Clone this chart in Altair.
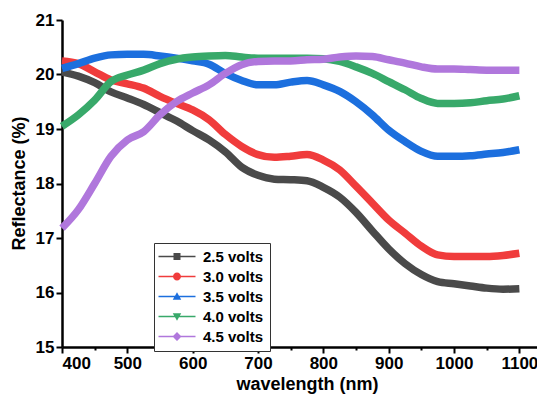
import altair as alt
import pandas as pd

wavelength = [400, 425, 450, 475, 500, 525, 550, 575, 600, 625, 650, 675, 700, 725, 750,
              775, 800, 825, 850, 875, 900, 925, 950, 975, 1000, 1025, 1050, 1075, 1100]

v25 = [20.05, 19.97, 19.85, 19.68, 19.57, 19.45, 19.30, 19.15, 18.97, 18.80, 18.58, 18.30, 18.15, 18.08, 18.07,
       18.05, 17.93, 17.75, 17.47, 17.13, 16.80, 16.53, 16.33, 16.20, 16.16, 16.12, 16.08, 16.06, 16.07]
v30 = [20.25, 20.20, 20.05, 19.90, 19.83, 19.75, 19.60, 19.47, 19.35, 19.17, 18.90, 18.68, 18.53, 18.48, 18.50,
       18.53, 18.43, 18.25, 17.95, 17.64, 17.33, 17.09, 16.85, 16.69, 16.66, 16.66, 16.66, 16.68, 16.72]
v35 = [20.11, 20.20, 20.30, 20.36, 20.37, 20.37, 20.34, 20.30, 20.25, 20.19, 20.02, 19.89, 19.81, 19.81, 19.86,
       19.89, 19.81, 19.69, 19.50, 19.26, 18.98, 18.77, 18.59, 18.50, 18.50, 18.51, 18.54, 18.57, 18.62]
v40 = [19.05, 19.26, 19.53, 19.87, 19.99, 20.08, 20.20, 20.28, 20.32, 20.34, 20.35, 20.32, 20.30, 20.30, 20.30,
       20.30, 20.29, 20.24, 20.14, 20.02, 19.87, 19.72, 19.56, 19.47, 19.47, 19.48, 19.52, 19.55, 19.61]
v45 = [17.18, 17.52, 18.00, 18.50, 18.80, 18.95, 19.26, 19.50, 19.66, 19.81, 20.02, 20.18, 20.24, 20.25, 20.25,
       20.27, 20.28, 20.32, 20.34, 20.33, 20.27, 20.21, 20.14, 20.10, 20.10, 20.09, 20.08, 20.08, 20.08]

series_names = ["2.5 volts", "3.0 volts", "3.5 volts", "4.0 volts", "4.5 volts"]
series_values = [v25, v30, v35, v40, v45]
colors = ["#4a4a4a", "#f03c3c", "#1c6fde", "#38a96a", "#b077dc"]

y_ticks = [15, 15.5, 16, 16.5, 17, 17.5, 18, 18.5, 19, 19.5, 20, 20.5, 21]
x_ticks = [400, 450, 500, 550, 600, 650, 700, 750, 800, 850, 900, 950, 1000, 1050, 1100]

rows = []
for name, vals in zip(series_names, series_values):
    for w, v in zip(wavelength, vals):
        rows.append({"wavelength": w, "reflectance": v, "series": name})
df = pd.DataFrame(rows)

line_path = "M-1.8 -0.15 H5.6 V0.15 H-1.8 Z "
shapes = [
    line_path + "M1.2 -0.7 H2.6 V0.7 H1.2 Z",
    line_path + "M1.1 0 A0.8 0.8 0 1 1 2.7 0 A0.8 0.8 0 1 1 1.1 0 Z",
    line_path + "M1.9 -0.85 L2.75 0.65 H1.05 Z",
    line_path + "M1.9 0.85 L1.05 -0.65 H2.75 Z",
    line_path + "M1.9 -0.9 L2.8 0 L1.9 0.9 L1.0 0 Z",
]

FONT = "Liberation Sans"

x_enc = alt.X(
    "wavelength:Q",
    scale=alt.Scale(domain=[400, 1127], nice=False, zero=False),
    axis=alt.Axis(
        title="wavelength (nm)", values=x_ticks, format="d",
        labelExpr="datum.value % 100 === 0 ? datum.label : ''",
        tickSize={"condition": {"test": "datum.value % 100 === 0", "value": 6}, "value": 3},
        titleX=245, titleY=42, titleBaseline="alphabetic", titleAnchor="start", titleAlign="center",
    ),
)
y_enc = alt.Y(
    "reflectance:Q",
    scale=alt.Scale(domain=[15, 21], nice=False, zero=False),
    axis=alt.Axis(
        title="Reflectance (%)", values=y_ticks, format="d",
        labelExpr="datum.value % 1 === 0 ? datum.label : ''",
        tickSize={"condition": {"test": "datum.value % 1 === 0", "value": 6}, "value": 3},
        titleX=-43, titleY=163, titleBaseline="middle", titleAlign="center", titleAngle=-90,
    ),
)

points = alt.Chart(df).mark_point(filled=True, opacity=0).encode(
    x=x_enc,
    y=y_enc,
    color=alt.Color("series:N", scale=alt.Scale(domain=series_names, range=colors),
                    legend=alt.Legend(title=None, orient="none", legendX=92, legendY=223,
                                      symbolOpacity=1)),
    shape=alt.Shape("series:N", scale=alt.Scale(domain=series_names, range=shapes),
                    legend=alt.Legend(title=None, orient="none", legendX=92, legendY=223,
                                      symbolOpacity=1)),
)

lines = alt.Chart(df).mark_line(strokeWidth=7.5, interpolate="monotone").encode(
    x=x_enc,
    y=y_enc,
    stroke=alt.Stroke("series:N", scale=alt.Scale(domain=series_names, range=colors), legend=None),
    detail="series:N",
)

chart = alt.layer(points, lines).properties(
    width=475, height=327,
    autosize=alt.AutoSizeParams(type="none"),
    padding={"left": 54, "top": 12, "right": 0, "bottom": 47},
).configure_view(stroke=None).configure_axis(
    labelFont=FONT, labelFontWeight="bold", labelFontSize=17, labelColor="black",
    titleFont=FONT, titleFontWeight="bold", titleFontSize=18, titleColor="black",
    domainColor="black", domainWidth=2.5, tickColor="black", tickWidth=2,
    labelPadding=2, grid=False, labelOverlap=False,
).configure_legend(
    labelFont=FONT, labelFontWeight="bold", labelFontSize=15, labelColor="black",
    symbolSize=100, symbolStrokeWidth=0, labelOffset=28, rowPadding=4,
    padding=6, strokeColor="#333333", fillColor="white", cornerRadius=0,
)

chart.save("out.html", embed_options={"renderer": "svg", "actions": False})
